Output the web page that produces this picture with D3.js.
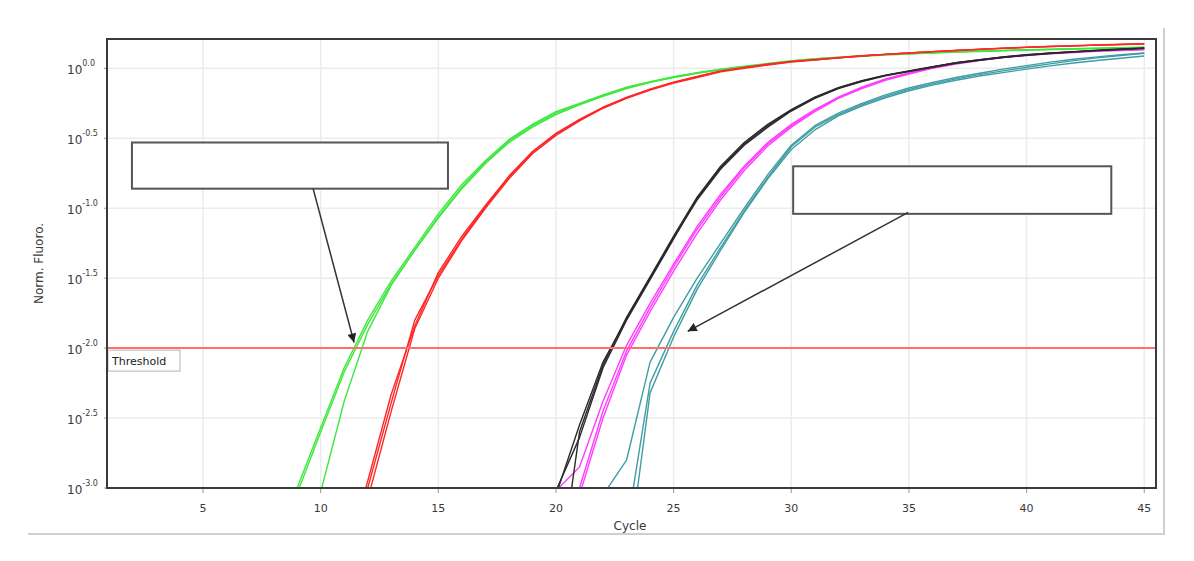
<!DOCTYPE html>
<html>
<head>
<meta charset="utf-8">
<script src="https://cdn.jsdelivr.net/npm/d3@7"></script>
<style>
  body { margin: 0; background: #fff; }
  text { font-family: "DejaVu Sans", Verdana, sans-serif; fill: #3a3a3a; }
</style>
</head>
<body>
<svg id="chart" width="1194" height="561"></svg>
<script>
// x ticks (cycles) and y ticks (log10 of normalised fluorescence)
var xTicks = [5, 10, 15, 20, 25, 30, 35, 40, 45];
var yTicks = [0, -0.5, -1, -1.5, -2, -2.5, -3];
var yTickLabels = ["0.0", "-0.5", "-1.0", "-1.5", "-2.0", "-2.5", "-3.0"];
var threshold = -2;

// curves: first cycle and log10 values for each following cycle
var greenAStart = 8;
var greenA = [-3.45,-3.00,-2.57,-2.14,-1.80,-1.52,-1.28,-1.04,-0.83,-0.66,-0.51,-0.40,-0.31,-0.25,-0.19,-0.135,-0.095,-0.06,-0.03,-0.005,0.015,0.035,0.055,0.07,0.08,0.09,0.10,0.107,0.113,0.119,0.124,0.129,0.133,0.137,0.141,0.145,0.148,0.152];
var greenBStart = 9;
var greenB = [-3.60,-3.03,-2.38,-1.88,-1.55,-1.30,-1.07,-0.86,-0.68,-0.53,-0.42,-0.33,-0.26,-0.20,-0.145,-0.10,-0.065,-0.035,-0.01,0.01,0.03,0.05,0.065,0.076,0.086,0.095,0.103,0.11,0.116,0.121,0.126,0.13,0.134,0.138,0.142,0.145,0.148];
var greenCStart = 8;
var greenC = [-3.5,-3.04,-2.60,-2.17,-1.83,-1.54,-1.30,-1.06,-0.85,-0.67,-0.52,-0.41,-0.32,-0.255,-0.195,-0.14,-0.1,-0.063,-0.033,-0.008,0.012,0.032,0.052,0.068,0.079,0.089,0.098,0.106,0.112,0.118,0.123,0.128,0.132,0.136,0.14,0.143,0.147,0.15];

var redAStart = 11;
var redA = [-3.6,-3.00,-2.39,-1.80,-1.48,-1.22,-0.99,-0.78,-0.60,-0.47,-0.37,-0.28,-0.21,-0.15,-0.10,-0.06,-0.02,0.005,0.028,0.048,0.062,0.075,0.088,0.1,0.11,0.12,0.128,0.136,0.143,0.15,0.156,0.161,0.166,0.171,0.176];
var redBStart = 11;
var redB = [-3.7,-3.08,-2.45,-1.86,-1.50,-1.23,-1.00,-0.79,-0.61,-0.48,-0.375,-0.285,-0.215,-0.155,-0.105,-0.065,-0.025,0.0,0.024,0.045,0.06,0.075,0.088,0.1,0.11,0.12,0.128,0.136,0.144,0.15,0.156,0.161,0.166,0.17,0.174];
var redCStart = 11;
var redC = [-3.55,-2.95,-2.33,-1.84,-1.46,-1.20,-0.98,-0.77,-0.595,-0.465,-0.365,-0.278,-0.208,-0.148,-0.098,-0.058,-0.018,0.006,0.03,0.05,0.062,0.076,0.09,0.1,0.11,0.12,0.129,0.137,0.145,0.151,0.157,0.162,0.167,0.172,0.177];

var blackAStart = 19;
var blackA = [-3.6,-3.02,-2.64,-2.14,-1.80,-1.51,-1.22,-0.93,-0.71,-0.54,-0.41,-0.30,-0.21,-0.14,-0.09,-0.05,-0.02,0.01,0.04,0.06,0.08,0.095,0.108,0.118,0.128,0.136,0.144];
var blackBStart = 20;
var blackB = [-3.8,-2.60,-2.12,-1.78,-1.49,-1.20,-0.92,-0.70,-0.53,-0.40,-0.295,-0.205,-0.138,-0.088,-0.048,-0.018,0.012,0.04,0.062,0.082,0.097,0.11,0.12,0.13,0.138,0.146];
var blackCStart = 19;
var blackC = [-3.7,-3.05,-2.55,-2.10,-1.79,-1.50,-1.21,-0.94,-0.72,-0.55,-0.42,-0.305,-0.215,-0.145,-0.094,-0.053,-0.022,0.008,0.036,0.058,0.078,0.093,0.106,0.117,0.127,0.135,0.143];

var magAStart = 20;
var magA = [-3.6,-3.0,-2.45,-2.02,-1.71,-1.42,-1.15,-0.92,-0.71,-0.54,-0.41,-0.30,-0.21,-0.14,-0.08,-0.035,0.005,0.035,0.06,0.08,0.095,0.107,0.117,0.125,0.131,0.136];
var magBStart = 20;
var magB = [-3.02,-2.85,-2.38,-1.98,-1.68,-1.40,-1.13,-0.90,-0.70,-0.53,-0.40,-0.295,-0.205,-0.135,-0.076,-0.032,0.008,0.038,0.062,0.082,0.097,0.109,0.119,0.127,0.133,0.138];
var magCStart = 20;
var magC = [-3.8,-3.05,-2.50,-2.05,-1.74,-1.45,-1.18,-0.94,-0.73,-0.555,-0.42,-0.31,-0.215,-0.145,-0.085,-0.04,0.0,0.03,0.056,0.077,0.092,0.104,0.114,0.122,0.128,0.133];

var tealAStart = 21;
var tealA = [-3.8,-3.05,-2.80,-2.10,-1.78,-1.50,-1.25,-1.00,-0.76,-0.55,-0.41,-0.32,-0.25,-0.19,-0.14,-0.10,-0.065,-0.035,-0.005,0.02,0.045,0.065,0.082,0.097,0.11];
var tealBStart = 23;
var tealB = [-3.6,-2.32,-1.92,-1.58,-1.30,-1.03,-0.79,-0.58,-0.44,-0.34,-0.27,-0.21,-0.16,-0.12,-0.085,-0.055,-0.03,-0.005,0.018,0.038,0.056,0.072,0.088];
var tealCStart = 23;
var tealC = [-3.3,-2.25,-1.88,-1.55,-1.28,-1.02,-0.78,-0.56,-0.42,-0.33,-0.26,-0.20,-0.15,-0.11,-0.075,-0.045,-0.018,0.008,0.032,0.055,0.075,0.092,0.108];

// empty label boxes with arrows, in data units [cycle, log10]
var boxLeft = [[1.98, -0.53], [15.41, -0.86]];
var boxRight = [[30.08, -0.70], [43.6, -1.04]];
var arrowLeft = [[9.68, -0.86], [11.42, -1.96]];
var arrowRight = [[34.97, -1.03], [25.6, -1.88]];

// plot area
var margin = {top: 39, left: 107, right: 1156, bottom: 488};

var x = d3.scaleLinear().domain([0.92, 45.5]).range([margin.left, margin.right]);
var y = d3.scaleLog().domain([Math.pow(10, -3), Math.pow(10, 0.21)]).range([margin.bottom, margin.top]);
function yl(v) { return y(Math.pow(10, v)); }

var svg = d3.select("#chart");

// outer panel edge (bottom and right)
svg.append("path")
  .attr("d", "M28,534H1164V28")
  .attr("fill", "none")
  .attr("stroke", "#cfcfcf")
  .attr("stroke-width", 2);

svg.append("defs").append("clipPath").attr("id", "clip")
  .append("rect")
  .attr("x", margin.left).attr("y", margin.top)
  .attr("width", margin.right - margin.left)
  .attr("height", margin.bottom - margin.top);

svg.append("defs").append("marker")
  .attr("id", "head")
  .attr("viewBox", "0 0 10 10")
  .attr("refX", 10).attr("refY", 5)
  .attr("markerWidth", 10).attr("markerHeight", 9)
  .attr("markerUnits", "userSpaceOnUse")
  .attr("orient", "auto")
  .append("path").attr("d", "M0,0L10,5L0,10Z").attr("fill", "#222");

// grid
svg.append("g").selectAll("line").data(xTicks).enter().append("line")
  .attr("x1", function(d) { return x(d); }).attr("x2", function(d) { return x(d); })
  .attr("y1", margin.top).attr("y2", margin.bottom)
  .attr("stroke", "#ececec").attr("stroke-width", 1.5);
svg.append("g").selectAll("line").data(yTicks).enter().append("line")
  .attr("x1", margin.left).attr("x2", margin.right)
  .attr("y1", function(d) { return yl(d); }).attr("y2", function(d) { return yl(d); })
  .attr("stroke", "#ececec").attr("stroke-width", 1.5);

// x ticks and labels
svg.append("g").selectAll("line").data(xTicks).enter().append("line")
  .attr("x1", function(d) { return x(d); }).attr("x2", function(d) { return x(d); })
  .attr("y1", margin.bottom).attr("y2", margin.bottom + 5)
  .attr("stroke", "#999");
svg.append("g").selectAll("text").data(xTicks).enter().append("text")
  .attr("x", function(d) { return x(d); })
  .attr("y", margin.bottom + 24)
  .attr("text-anchor", "middle")
  .style("font-size", "11px")
  .text(function(d) { return d; });

svg.append("text")
  .attr("x", 630).attr("y", 530)
  .attr("text-anchor", "middle")
  .style("font-size", "12px")
  .text("Cycle");

// y ticks and labels (10 with superscript exponent)
svg.append("g").selectAll("line").data(yTicks).enter().append("line")
  .attr("x1", margin.left - 3).attr("x2", margin.left)
  .attr("y1", function(d) { return yl(d); }).attr("y2", function(d) { return yl(d); })
  .attr("stroke", "#999");
var ylab = svg.append("g").selectAll("text").data(yTicks).enter().append("text")
  .attr("x", 67)
  .attr("y", function(d) { return yl(d) + 6; })
  .style("font-size", "12px");
ylab.append("tspan").text("10");
ylab.append("tspan")
  .attr("dy", -8)
  .style("font-size", "8px")
  .text(function(d, i) { return yTickLabels[i]; });

svg.append("text")
  .attr("transform", "translate(43," + ((margin.top + margin.bottom) / 2) + ") rotate(-90)")
  .attr("text-anchor", "middle")
  .style("font-size", "12px")
  .text("Norm. Fluoro.");

// curves
var series = [
  {start: greenAStart, values: greenA, color: "#3ee83e"},
  {start: greenCStart, values: greenC, color: "#3ee83e"},
  {start: greenBStart, values: greenB, color: "#3ee83e"},
  {start: redAStart, values: redA, color: "#ff2626"},
  {start: redBStart, values: redB, color: "#ff2626"},
  {start: redCStart, values: redC, color: "#ff2626"},
  {start: tealAStart, values: tealA, color: "#3f9ea3"},
  {start: tealBStart, values: tealB, color: "#3f9ea3"},
  {start: tealCStart, values: tealC, color: "#3f9ea3"},
  {start: magAStart, values: magA, color: "#ff3cff"},
  {start: magBStart, values: magB, color: "#ff3cff"},
  {start: magCStart, values: magC, color: "#ff3cff"},
  {start: blackAStart, values: blackA, color: "#2a2a2a"},
  {start: blackBStart, values: blackB, color: "#2a2a2a"},
  {start: blackCStart, values: blackC, color: "#2a2a2a"}
];

var line = d3.line()
  .x(function(d) { return x(d[0]); })
  .y(function(d) { return yl(d[1]); });

svg.append("g").attr("clip-path", "url(#clip)")
  .selectAll("path").data(series).enter().append("path")
  .attr("d", function(s) {
    return line(s.values.map(function(v, i) { return [s.start + i, v]; }));
  })
  .attr("fill", "none")
  .attr("stroke", function(s) { return s.color; })
  .attr("stroke-width", 1.4)
  .attr("stroke-linejoin", "round");

// threshold line and label
svg.append("line")
  .attr("x1", margin.left).attr("x2", margin.right)
  .attr("y1", yl(threshold)).attr("y2", yl(threshold))
  .attr("stroke", "#ff6f6f").attr("stroke-width", 2);
svg.append("rect")
  .attr("x", margin.left + 1).attr("y", yl(threshold) + 2)
  .attr("width", 72).attr("height", 21)
  .attr("fill", "#fff").attr("stroke", "#b5b5b5");
svg.append("text")
  .attr("x", margin.left + 5).attr("y", yl(threshold) + 17)
  .style("font-size", "11px").style("fill", "#222")
  .text("Threshold");

// plot frame
svg.append("rect")
  .attr("x", margin.left).attr("y", margin.top)
  .attr("width", margin.right - margin.left)
  .attr("height", margin.bottom - margin.top)
  .attr("fill", "none").attr("stroke", "#3a3a3a").attr("stroke-width", 2);

// empty annotation boxes and arrows
[boxLeft, boxRight].forEach(function(b) {
  svg.append("rect")
    .attr("x", x(b[0][0])).attr("y", yl(b[0][1]))
    .attr("width", x(b[1][0]) - x(b[0][0]))
    .attr("height", yl(b[1][1]) - yl(b[0][1]))
    .attr("fill", "#fff").attr("stroke", "#555").attr("stroke-width", 2);
});
[arrowLeft, arrowRight].forEach(function(a) {
  svg.append("line")
    .attr("x1", x(a[0][0])).attr("y1", yl(a[0][1]))
    .attr("x2", x(a[1][0])).attr("y2", yl(a[1][1]))
    .attr("stroke", "#333").attr("stroke-width", 1.5)
    .attr("marker-end", "url(#head)");
});
</script>
</body>
</html>
